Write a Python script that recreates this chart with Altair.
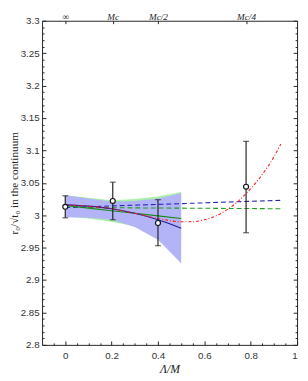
import altair as alt
import pandas as pd

# ---- data ----
pt_x = [0.0, 0.205, 0.40, 0.78]
pt_y = [3.013, 3.022, 2.988, 3.044]
pt_lo = [2.996, 2.993, 2.953, 2.973]
pt_hi = [3.030, 3.051, 3.024, 3.114]

band_x = [0.0, 0.1, 0.2, 0.3, 0.4, 0.5]
blue_lo = [2.997, 2.996, 2.993, 2.982, 2.962, 2.926]
blue_hi = [3.031, 3.026, 3.021, 3.022, 3.026, 3.034]
green_lo = [2.998, 2.995, 2.990, 2.983, 2.972, 2.957]
green_hi = [3.031, 3.027, 3.023, 3.025, 3.029, 3.036]
blue_fit = [3.016, 3.014, 3.010, 3.003, 2.993, 2.980]
green_fit = [3.015, 3.011, 3.007, 3.003, 2.999, 2.995]

dash_x = [0.0, 0.93]
blue_dash = [3.012, 3.023]
green_dash = [3.012, 3.010]

red_x = [0.0, 0.1, 0.2, 0.3, 0.4, 0.5, 0.55, 0.6, 0.65, 0.7, 0.75, 0.8, 0.85, 0.9, 0.93]
red_y = [3.016, 3.014, 3.010, 3.003, 2.995, 2.990, 2.990, 2.993, 2.999, 3.009,
         3.023, 3.041, 3.063, 3.090, 3.110]

x_major = [0, 0.2, 0.4, 0.6, 0.8, 1.0]
x_minor = [-0.05, 0.05, 0.1, 0.15, 0.25, 0.3, 0.35, 0.45, 0.5, 0.55, 0.65, 0.7, 0.75, 0.85, 0.9, 0.95]
y_major = [2.8, 2.85, 2.9, 2.95, 3.0, 3.05, 3.1, 3.15, 3.2, 3.25, 3.3]
y_minor = [round(2.8 + 0.01 * i, 2) for i in range(51) if i % 5 != 0]
top_vals = [0.0, 0.205, 0.40, 0.78]
top_labels = ["∞", "Mc", "Mc/2", "Mc/4"]

W, H = 262, 333
XS = alt.Scale(domain=[-0.1, 1.0], nice=False, zero=False)
YS = alt.Scale(domain=[2.8, 3.3], nice=False, zero=False)

band = pd.DataFrame({"x": band_x, "blo": blue_lo, "bhi": blue_hi,
                     "glo": green_lo, "ghi": green_hi,
                     "bfit": blue_fit, "gfit": green_fit})
dash = pd.DataFrame({"x": dash_x, "b": blue_dash, "g": green_dash})
red = pd.DataFrame({"x": red_x, "y": red_y})
pts = pd.DataFrame({"x": pt_x, "y": pt_y, "lo": pt_lo, "hi": pt_hi})

lab_expr = " : ".join(
    f"abs(datum.value - {v}) < 0.001 ? '{t}'" for v, t in zip(top_vals, top_labels)
) + " : ''"

tickcol = "#222"

# axis definitions
ax_x_labels = alt.Axis(orient="bottom", values=x_major, ticks=False, domain=False, grid=False,
                       labelFont="Liberation Sans", labelFontSize=10, labelColor="#333",
                       labelPadding=6, format="~g",
                       title="Λ/M", titleFont="Liberation Serif", titleFontStyle="italic",
                       titleFontSize=12, titleFontWeight="normal", titlePadding=3, titleColor="#222")
ax_y_labels = alt.Axis(orient="left", values=y_major, ticks=False, domain=False, grid=False,
                       labelFont="Liberation Sans", labelFontSize=10, labelColor="#333",
                       labelPadding=3, format="~g",
                       title="r₀/√t₀ in the continuum", titleFont="Liberation Serif",
                       titleFontSize=11.5, titleFontWeight="normal", titlePadding=1, titleColor="#222")
ax_x_major_in = alt.Axis(orient="top", offset=-H, values=x_major, labels=False, domain=False,
                         grid=False, tickSize=4, tickColor=tickcol, title=None)
ax_y_major_in = alt.Axis(orient="right", offset=-W, values=y_major, labels=False, domain=False,
                         grid=False, tickSize=4, tickColor=tickcol, title=None)
ax_x_minor_in = alt.Axis(orient="top", offset=-H, values=x_minor, labels=False, domain=False,
                         grid=False, tickSize=2, tickColor=tickcol, title=None)
ax_y_minor_in = alt.Axis(orient="right", offset=-W, values=y_minor, labels=False, domain=False,
                         grid=False, tickSize=2, tickColor=tickcol, title=None)
ax_x_top_labels = alt.Axis(orient="top", values=top_vals, ticks=False, domain=False, grid=False,
                           labelExpr=lab_expr, labelFont="Liberation Serif", labelFontStyle="italic",
                           labelFontSize=9.5, labelColor="#222", labelPadding=1,
                           labelBaseline="alphabetic", title=None)
ax_y_right_major = alt.Axis(orient="left", offset=-W, values=y_major, labels=False, domain=False,
                            grid=False, tickSize=4, tickColor=tickcol, title=None)
ax_x_top_ticks = alt.Axis(orient="bottom", offset=-H, values=top_vals, labels=False, domain=False,
                          grid=False, tickSize=3, tickColor=tickcol, title=None)
ax_y_right_minor = alt.Axis(orient="left", offset=-W, values=y_minor, labels=False, domain=False,
                            grid=False, tickSize=2, tickColor=tickcol, title=None)

base_band = alt.Chart(band)
green_band = base_band.mark_area(color="#a8f0a8", opacity=1).encode(
    x=alt.X("x:Q", scale=XS, axis=ax_x_labels),
    y=alt.Y("glo:Q", scale=YS, axis=ax_y_labels),
    y2="ghi:Q")
blue_band = base_band.mark_area(color="#b3b3f7", opacity=1).encode(
    x=alt.X("x:Q", scale=XS, axis=ax_x_major_in),
    y=alt.Y("blo:Q", scale=YS, axis=ax_y_major_in),
    y2="bhi:Q")

base_dash = alt.Chart(dash)
green_dash_l = base_dash.mark_line(color="#22a022", strokeWidth=1.1, strokeDash=[5, 3]).encode(
    x=alt.X("x:Q", scale=XS, axis=ax_x_minor_in),
    y=alt.Y("g:Q", scale=YS, axis=ax_y_minor_in))
blue_dash_l = base_dash.mark_line(color="#2a2ab8", strokeWidth=1.1, strokeDash=[5, 3]).encode(
    x=alt.X("x:Q", scale=XS, axis=ax_x_top_labels),
    y=alt.Y("b:Q", scale=YS, axis=ax_y_right_major))

green_line = base_band.mark_line(color="#1a8a1a", strokeWidth=1.1).encode(
    x=alt.X("x:Q", scale=XS, axis=ax_x_top_ticks),
    y=alt.Y("gfit:Q", scale=YS, axis=ax_y_right_minor))
blue_line = base_band.mark_line(color="#1c1c9c", strokeWidth=1.1, interpolate="monotone").encode(
    x=alt.X("x:Q", scale=XS, axis=None),
    y=alt.Y("bfit:Q", scale=YS, axis=None))

red_line = alt.Chart(red).mark_line(color="#ff1a1a", strokeWidth=1.1, strokeDash=[3, 2, 1, 2],
                                    interpolate="monotone").encode(
    x=alt.X("x:Q", scale=XS, axis=None),
    y=alt.Y("y:Q", scale=YS, axis=None))

base_pts = alt.Chart(pts)
err = base_pts.mark_rule(color="#222", strokeWidth=1.2).encode(
    x=alt.X("x:Q", scale=XS, axis=None),
    y=alt.Y("lo:Q", scale=YS, axis=None), y2="hi:Q")
cap_lo = base_pts.mark_tick(color="#222", orient="horizontal", size=6, thickness=1.2).encode(
    x=alt.X("x:Q", scale=XS, axis=None),
    y=alt.Y("lo:Q", scale=YS, axis=None))
cap_hi = base_pts.mark_tick(color="#222", orient="horizontal", size=6, thickness=1.2).encode(
    x=alt.X("x:Q", scale=XS, axis=None),
    y=alt.Y("hi:Q", scale=YS, axis=None))
points = base_pts.mark_point(shape="circle", filled=False, fill="white", fillOpacity=1,
                             stroke="#111", strokeWidth=1.2, size=26, opacity=1).encode(
    x=alt.X("x:Q", scale=XS, axis=None),
    y=alt.Y("y:Q", scale=YS, axis=None))

chart = alt.layer(
    green_band, blue_band, green_dash_l, blue_dash_l, green_line, blue_line, red_line,
    err, cap_lo, cap_hi, points
).resolve_axis(x="independent", y="independent").properties(
    width=W, height=H,
    autosize=alt.AutoSizeParams(type="none"),
    padding={"left": 35, "top": 8, "right": 3, "bottom": 32},
).configure_view(stroke="#222", strokeWidth=1)

chart.save("out.html", embed_options={"renderer": "svg", "actions": False})
